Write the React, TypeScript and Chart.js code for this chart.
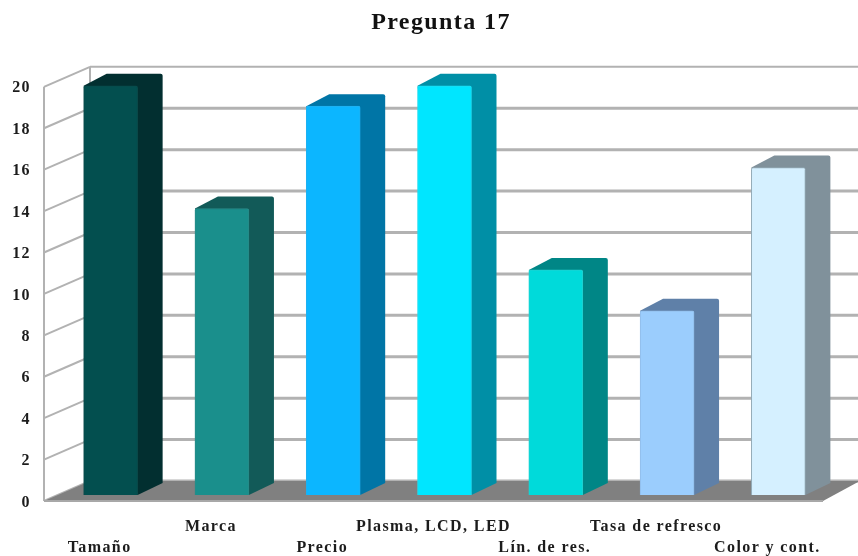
import React, { useEffect, useRef } from "react";
import { Chart, registerables } from "chart.js";

Chart.register(...registerables);

const titleText = "Pregunta 17";
const categories = ["Tamaño", "Marca", "Precio", "Plasma, LCD, LED", "Lín. de res.", "Tasa de refresco", "Color y cont."];
const values = [20, 14, 19, 20, 11, 9, 16];
const frontColors = ["#034f4f", "#1a8f8c", "#0cb6ff", "#00e6ff", "#00dada", "#9bcdfd", "#d5f0ff"];
const sideColors = ["#022f30", "#125a58", "#0075a6", "#008fa6", "#008686", "#5f80a8", "#80919b"];
const borderColors = ["#0a4a4a", "#2a8a88", "#20b0f0", "#20dcf0", "#20d0d0", "#90bce8", "#94acb8"];

const GRID = "#b2b2b2";
const DEPTH_X = 46;
const DEPTH_Y = 20;
const BAR_DX = 11;
const BAR_DY = 6;
const SIDE_X = 25;
const SIDE_Y = 12;
const TITLE_SHIFT = 59;

const scenePlugin = {
  id: "scene3d",
  beforeDraw(chart: any) {
    chart.ctx.letterSpacing = "1.4px";
    if (!chart.$titleShifted) {
      chart.titleBlock.left += TITLE_SHIFT;
      chart.$titleShifted = true;
    }
  },
  beforeDatasetsDraw(chart: any) {
    const c = chart.ctx;
    const y = chart.scales.y;
    const { left, right, bottom, top } = chart.chartArea;
    const w = chart.width;
    c.save();
    // walls
    c.strokeStyle = GRID;
    c.lineWidth = 2;
    c.beginPath();
    c.moveTo(left, top);
    c.lineTo(left, bottom);
    c.moveTo(left + DEPTH_X, top - DEPTH_Y);
    c.lineTo(left + DEPTH_X, bottom - DEPTH_Y);
    c.stroke();
    // grid lines: diagonal on the side wall + horizontal on the back wall
    y.ticks.forEach((t: any) => {
      const py = y.getPixelForValue(t.value);
      c.lineWidth = 2;
      c.beginPath();
      c.moveTo(left, py);
      c.lineTo(left + DEPTH_X, py - DEPTH_Y);
      c.stroke();
      c.lineWidth = t.value === 20 ? 2 : 3;
      c.beginPath();
      c.moveTo(left + DEPTH_X, py - DEPTH_Y);
      c.lineTo(w, py - DEPTH_Y);
      c.stroke();
    });
    // floor
    c.fillStyle = "#808080";
    c.beginPath();
    c.moveTo(left, bottom);
    c.lineTo(left + DEPTH_X, bottom - DEPTH_Y);
    c.lineTo(w + 2, bottom - DEPTH_Y);
    c.lineTo(right, bottom);
    c.closePath();
    c.fill();
    c.strokeStyle = "#a8a8a8";
    c.lineWidth = 2;
    c.beginPath();
    c.moveTo(left, bottom);
    c.lineTo(right, bottom);
    c.stroke();
    // bar sides and tops
    const meta = chart.getDatasetMeta(0);
    meta.data.forEach((bar: any, i: number) => {
      const x0 = bar.x - bar.width / 2 + BAR_DX;
      const x1 = bar.x + bar.width / 2 + BAR_DX;
      const yt = bar.y - BAR_DY;
      const yb = bar.base - BAR_DY;
      c.fillStyle = sideColors[i];
      c.beginPath();
      c.moveTo(x0, yt);
      c.lineTo(x0 + SIDE_X - 2, yt - SIDE_Y);
      c.lineTo(x1 + SIDE_X - 2, yt - SIDE_Y);
      c.quadraticCurveTo(x1 + SIDE_X, yt - SIDE_Y, x1 + SIDE_X, yt - SIDE_Y + 2);
      c.lineTo(x1 + SIDE_X, yb - SIDE_Y);
      c.lineTo(x1, yb);
      c.closePath();
      c.fill();
    });
    c.restore();
    c.save();
    c.translate(BAR_DX, -BAR_DY);
  },
  afterDatasetsDraw(chart: any) {
    chart.ctx.restore();
  },
};

export default function App() {
  const ref = useRef<HTMLCanvasElement>(null);
  useEffect(() => {
    document.body.style.margin = "0";
    const chart = new Chart(ref.current as HTMLCanvasElement, {
      type: "bar",
      data: {
        labels: categories,
        datasets: [
          {
            data: values,
            backgroundColor: frontColors,
            borderColor: borderColors,
            borderWidth: 1,
            borderRadius: 2,
            barThickness: 54,
            yAxisID: "y1",
            clip: false,
          } as any,
        ],
      },
      options: {
        animation: false,
        responsive: false,
        layout: { padding: { top: 0, right: 35, left: 0, bottom: 0 } },
        plugins: {
          legend: { display: false },
          tooltip: { enabled: false },
          title: {
            display: true,
            text: titleText,
            color: "#111111",
            font: { family: "Liberation Serif", size: 24, weight: "bold" },
            padding: { top: 8, bottom: 50 },
          },
        },
        scales: {
          x: {
            grid: { display: false, drawTicks: false },
            border: { display: false },
            afterFit: (s: any) => {
              s.height = 55;
            },
            ticks: {
              autoSkip: false,
              maxRotation: 0,
              minRotation: 0,
              padding: 15,
              color: "#1c1c1c",
              font: { family: "Liberation Serif", size: 16, weight: "bold", lineHeight: 1.32 },
              callback: (_v: any, i: number) => (i % 2 === 0 ? ["", categories[i]] : [categories[i], ""]),
            },
          },
          y: {
            min: 0,
            max: 20,
            grid: { display: false, drawTicks: false },
            border: { display: false },
            afterFit: (s: any) => {
              s.width = 44;
            },
            ticks: {
              stepSize: 2,
              padding: 13,
              labelOffset: 1.5,
              color: "#1c1c1c",
              font: { family: "Liberation Serif", size: 16, weight: "bold" },
            },
          },
          y1: { display: false, min: 0, max: 20.24 },
        },
      },
      plugins: [scenePlugin],
    } as any);
    return () => chart.destroy();
  }, []);
  return <canvas ref={ref} width={858} height={556} style={{ display: "block" }} />;
}
